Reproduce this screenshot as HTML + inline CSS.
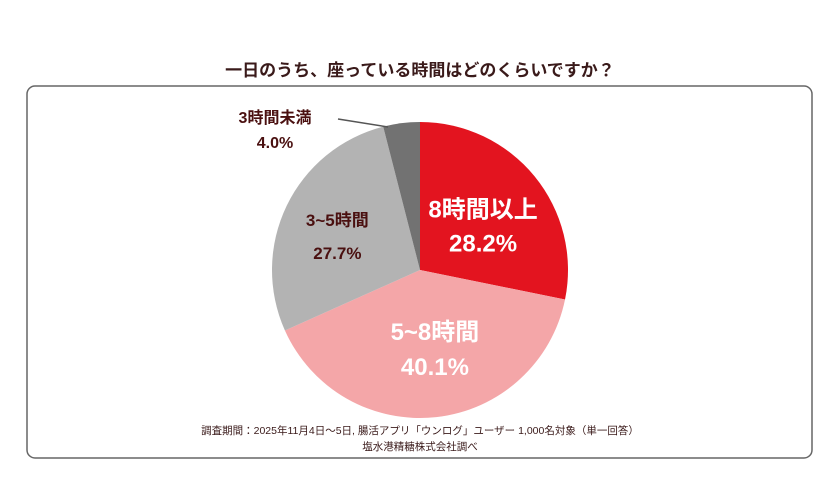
<!DOCTYPE html>
<html><head><meta charset="utf-8">
<style>
html,body{margin:0;padding:0;background:#fff;}
body{width:840px;height:473px;overflow:hidden;font-family:"Liberation Sans","Noto Sans CJK JP",sans-serif;}
</style></head>
<body>
<svg id="chart" width="840" height="473" viewBox="0 0 840 473" xmlns="http://www.w3.org/2000/svg">
<text x="420" y="76" text-anchor="middle" font-size="17" font-weight="bold" fill="#3a1a1a" font-family="Liberation Sans, Noto Sans CJK JP, sans-serif">一日のうち、座っている時間はどのくらいですか？</text>
<rect x="27" y="86" width="785" height="372" rx="8" fill="#fff" stroke="#666" stroke-width="1.5"/>
<g id="slices"></g>
<g id="labels"></g>
<line x1="338" y1="119" x2="388" y2="127" stroke="#555" stroke-width="1.5"/>
<text x="420" y="434" text-anchor="middle" font-size="10.5" fill="#3a1a1a" font-family="Liberation Sans, Noto Sans CJK JP, sans-serif">調査期間：2025年11月4日～5日, 腸活アプリ「ウンログ」ユーザー 1,000名対象（単一回答）</text>
<text x="420" y="450" text-anchor="middle" font-size="10.5" fill="#3a1a1a" font-family="Liberation Sans, Noto Sans CJK JP, sans-serif">塩水港精糖株式会社調べ</text>
</svg>
<script>
const categories = ["8時間以上","5~8時間","3~5時間","3時間未満"];
const values = [28.2, 40.1, 27.7, 4.0];
const colors = ["#e3141f","#f4a6a8","#b3b3b3","#727272"];
const cx=420, cy=270, r=148;
const NS="http://www.w3.org/2000/svg";
const total=values.reduce((a,b)=>a+b,0);
const sg=document.getElementById('slices'), lg=document.getElementById('labels');
function pt(a,rr){return [cx+rr*Math.sin(a), cy-rr*Math.cos(a)];}
let a0=0;
const labelCfg=[
 {rr:0.55, fill:"#fff", size:24, d1:-1, d2:33, dx:0},
 {rr:0.55, fill:"#fff", size:24, d1:-11, d2:24, dx:6},
 {rr:0.62, fill:"#4a1010", size:17, d1:-4, d2:29, dx:0},
 null
];
values.forEach((v,i)=>{
  const a1=a0+v/total*2*Math.PI;
  const [x0,y0]=pt(a0,r),[x1,y1]=pt(a1,r);
  const p=document.createElementNS(NS,'path');
  p.setAttribute('d',`M${cx},${cy} L${x0},${y0} A${r},${r} 0 ${a1-a0>Math.PI?1:0} 1 ${x1},${y1} Z`);
  p.setAttribute('fill',colors[i]);
  
  
  sg.appendChild(p);
  const mid=(a0+a1)/2;
  let lx,ly,sz,fill,d1,d2;
  const c=labelCfg[i];
  if(c){[lx,ly]=pt(mid,r*c.rr); lx+=c.dx; sz=c.size; fill=c.fill; d1=c.d1; d2=c.d2;}
  else {lx=275; ly=129; sz=16; fill="#4a1010"; d1=-6; d2=19;}
  [[categories[i],ly+d1],[v.toFixed(1)+"%",ly+d2]].forEach((d,k)=>{
    const t=document.createElementNS(NS,'text');
    t.setAttribute('x',lx); t.setAttribute('y',d[1]);
    t.setAttribute('text-anchor','middle'); t.setAttribute('font-size',sz);
    t.setAttribute('font-weight','bold'); t.setAttribute('fill',fill);
    t.textContent=d[0];
    
    
    lg.appendChild(t);
  });
  a0=a1;
});
</script>
</body></html>
